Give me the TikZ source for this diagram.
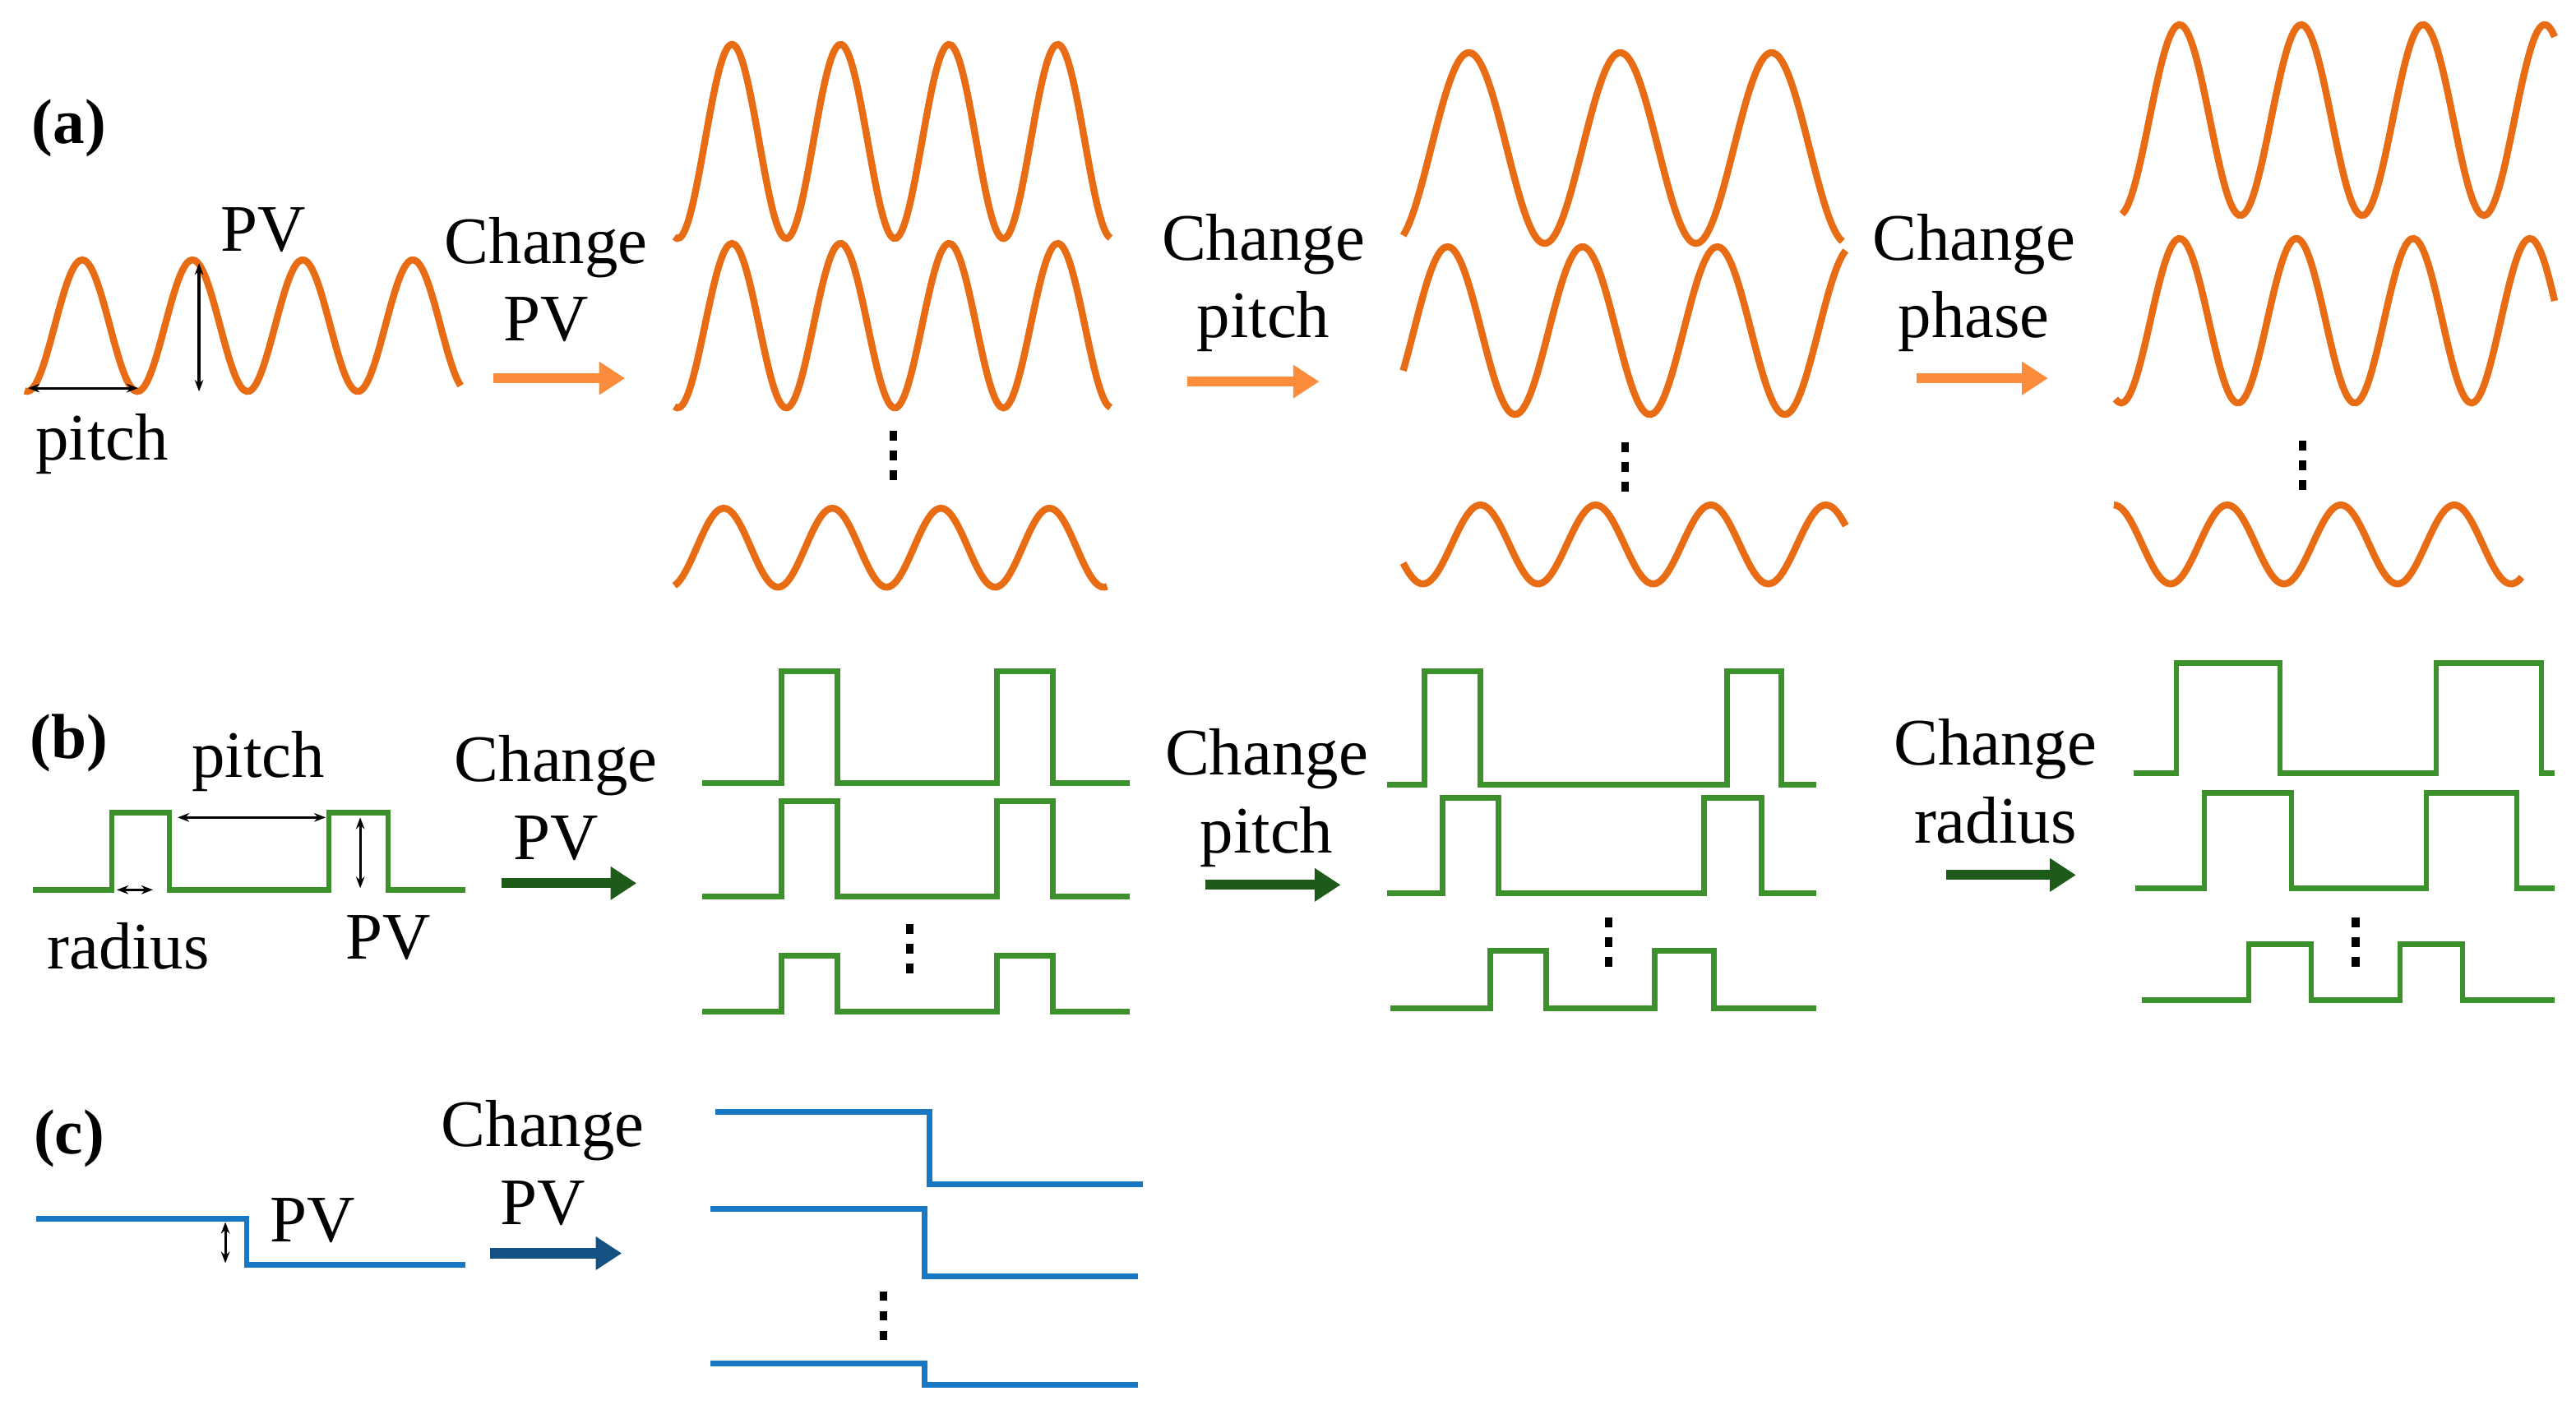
\documentclass[tikz,border=0pt]{standalone}
\usepackage{fontspec}
\setmainfont{Liberation Serif}
\usetikzlibrary{arrows.meta}
\definecolor{orn}{RGB}{232,108,20}
\definecolor{orna}{RGB}{250,140,60}
\definecolor{grn}{RGB}{60,145,45}
\definecolor{dgrn}{RGB}{30,90,25}
\definecolor{blu}{RGB}{25,120,195}
\definecolor{dblu}{RGB}{20,80,130}
\begin{document}
\begin{tikzpicture}[x=0.02cm,y=-0.02cm,
 sine/.style={orn,line width=2.4pt},
 sq/.style={grn,line width=1.9pt},
 bl/.style={blu,line width=1.9pt},
 fat/.style={line width=3.5pt,-{Triangle[length=9pt,width=11pt]}},
 lbl/.style={font=\fontsize{23}{27}\selectfont,align=center},
 tag/.style={font=\fontsize{22}{26}\selectfont\bfseries},
 dim/.style={line width=0.9pt,{Stealth[length=4pt]}-{Stealth[length=4pt]}},
 dot/.style={rectangle,fill=black,inner sep=0pt,minimum width=2.6pt,minimum height=3.4pt}]
\useasboundingbox (0,0) rectangle (1566,854);
\newcommand{\sw}[6]{\draw[sine] plot[domain=#1:#2,samples=160,smooth] (\x,{#3-#4*cos((360/#6)*(\x-#5))});}
\newcommand{\vd}[3]{\node[dot] (#1a) at (#2,#3-12) {};\node[dot] (#1b) at (#2,#3) {};\node[dot] (#1c) at (#2,#3+12) {};}
% (a)
\node[tag] (ta) at (42,78) {(a)};
\sw{15}{280}{198}{40}{50}{67}
\coordinate (p1) at (17,236); \coordinate (p2) at (84,236);
\draw[dim] (p1) -- (p2);
\coordinate (v1) at (121,160); \coordinate (v2) at (121,238);
\draw[dim] (v1) -- (v2);
\node[lbl] (pva) at (160,140) {PV};
\node[lbl] (pia) at (62,270) {pitch};
\node[lbl] (ca1) at (332,170) {Change\\PV};
\coordinate (a1s) at (300,230); \coordinate (a1e) at (380,230);
\draw[fat,orna] (a1s) -- (a1e);
\sw{410}{675}{86}{59}{445}{66}
\sw{410}{675}{198}{50}{445}{66}
\sw{410}{673}{333}{24}{440}{66}
\vd{d1}{543}{277}
\node[lbl] (ca2) at (768,172) {Change\\pitch};
\coordinate (a2s) at (722,232); \coordinate (a2e) at (802,232);
\draw[fat,orna] (a2s) -- (a2e);
\sw{853}{1120}{90}{58}{893}{92}
\sw{853}{1122}{201}{51}{880}{82}
\sw{853}{1122}{331}{24}{900}{70}
\vd{d2}{988}{284}
\node[lbl] (ca3) at (1200,172) {Change\\phase};
\coordinate (a3s) at (1165,230); \coordinate (a3e) at (1245,230);
\draw[fat,orna] (a3s) -- (a3e);
\sw{1290}{1553}{73}{58}{1325}{74}
\sw{1286}{1553}{195}{50}{1325}{71}
\sw{1285}{1533}{331}{24}{1285}{69}
\vd{d3}{1400}{283}
% (b)
\node[tag] (tb) at (42,452) {(b)};
\draw[sq] (20,541) -| (68,494) -| (103,541) -| (200,494) -| (236,541) -- (283,541);
\coordinate (q1) at (108,497); \coordinate (q2) at (198,497);
\draw[dim] (q1) -- (q2);
\coordinate (r1) at (71,541); \coordinate (r2) at (93,541);
\draw[dim] (r1) -- (r2);
\coordinate (u1) at (219,497); \coordinate (u2) at (219,540);
\draw[dim] (u1) -- (u2);
\node[lbl] (pib) at (157,463) {pitch};
\node[lbl] (rab) at (78,575) {radius};
\node[lbl] (pvb) at (236,570) {PV};
\node[lbl] (cb1) at (338,485) {Change\\PV};
\coordinate (b1s) at (305,537); \coordinate (b1e) at (387,537);
\draw[fat,dgrn] (b1s) -- (b1e);
\newcommand{\pul}[9]{\draw[sq] (#1,#2) -| (#4,#3) -| (#5,#2) -| (#6,#3) -| (#7,#2) -- (#8,#2);}
\pul{427}{476}{408}{475}{509}{606}{640}{687}{}
\pul{427}{545}{487}{475}{509}{606}{640}{687}{}
\pul{427}{615}{581}{475}{509}{606}{640}{687}{}
\vd{d4}{553}{577}
\node[lbl] (cb2) at (770,485) {Change\\pitch};
\coordinate (b2s) at (733,538); \coordinate (b2e) at (815,538);
\draw[fat,dgrn] (b2s) -- (b2e);
\pul{843}{477}{408}{866}{900}{1050}{1083}{1104}{}
\pul{843}{543}{485}{877}{911}{1036}{1071}{1104}{}
\pul{845}{613}{578}{906}{940}{1006}{1042}{1104}{}
\vd{d5}{978}{573}
\node[lbl] (cb3) at (1213,475) {Change\\radius};
\coordinate (b3s) at (1183,532); \coordinate (b3e) at (1262,532);
\draw[fat,dgrn] (b3s) -- (b3e);
\pul{1297}{470}{403}{1323}{1386}{1481}{1545}{1553}{}
\pul{1298}{540}{482}{1340}{1393}{1475}{1530}{1553}{}
\pul{1302}{608}{574}{1367}{1405}{1459}{1497}{1553}{}
\vd{d6}{1432}{573}
% (c)
\node[tag] (tc) at (42,692) {(c)};
\draw[bl] (22,741) -| (150,769) -- (283,769);
\coordinate (w1) at (137,743); \coordinate (w2) at (137,768);
\draw[dim] (w1) -- (w2);
\node[lbl] (pvc) at (190,742) {PV};
\node[lbl] (cc1) at (330,707) {Change\\PV};
\coordinate (c1s) at (298,762); \coordinate (c1e) at (378,762);
\draw[fat,dblu] (c1s) -- (c1e);
\draw[bl] (435,676) -| (565,720) -- (695,720);
\draw[bl] (432,735) -| (562,776) -- (692,776);
\draw[bl] (432,829) -| (562,842) -- (692,842);
\vd{d7}{537}{800}
\end{tikzpicture}
\end{document}
